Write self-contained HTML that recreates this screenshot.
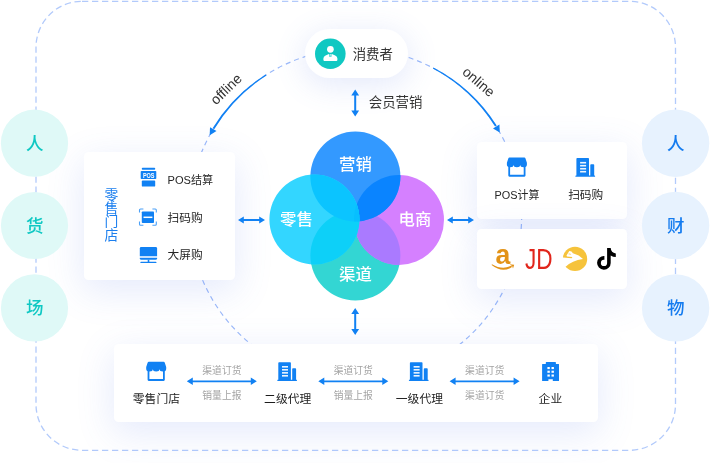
<!DOCTYPE html>
<html lang="zh-CN">
<head>
<meta charset="utf-8">
<title>全渠道业务架构</title>
<style>
  html, body { margin: 0; padding: 0; background: #ffffff; }
  body { width: 710px; height: 463px; overflow: hidden; position: relative;
         font-family: "Liberation Sans", "Noto Sans CJK SC", sans-serif; }
  #stage { position: absolute; left: 0; top: 0; width: 710px; height: 463px; overflow: hidden; background: #fff; }
  svg { position: absolute; left: 0; top: 0; will-change: transform; }
  .card { position: absolute; background: #fff; border-radius: 4.5px;
          box-shadow: 0 10px 36px 2px rgba(84, 118, 235, 0.15); }
  .pill { position: absolute; background: #fff; border-radius: 25px;
          box-shadow: 0 6px 30px 2px rgba(92, 124, 230, 0.16); }
  svg text { font-family: "Liberation Sans", "Noto Sans CJK SC", sans-serif; }
</style>
</head>
<body>
<div id="stage">

  <!-- layer 1 : dashed guides -->
  <svg width="710" height="463" viewBox="0 0 710 463">
    <rect x="36" y="1.3" width="639.5" height="449" rx="46" ry="46" fill="none" stroke="#b2cafb" stroke-width="1.3" stroke-dasharray="6.3 3.7"/>
    <circle cx="355.5" cy="215" r="166.2" fill="none" stroke="#9bb9f9" stroke-width="1.2" stroke-dasharray="5 4"/>
  </svg>

  <!-- cards -->
  <div class="card" style="left:83.8px; top:152.1px; width:150.9px; height:127.9px;"></div>
  <div class="card" style="left:477.1px; top:142.2px; width:149.9px; height:77.2px;"></div>
  <div class="card" style="left:477.1px; top:228.5px; width:149.9px; height:60.8px;"></div>
  <div class="card" style="left:114.1px; top:343.8px; width:484.2px; height:78.1px;"></div>
  <div class="pill" style="left:304.8px; top:29.2px; width:102.8px; height:48.9px;"></div>

  <!-- layer 2 : everything else -->
  <svg width="710" height="463" viewBox="0 0 710 463">
    <defs>
      <g id="shop">
        <!-- 20 x 19 shop icon, origin top-left -->
        <path d="M2.6 0 H17.4 Q18.3 0 18.6 0.9 L20 5.2 V7.2 A3.333 2.5 0 0 1 13.333 7.2 A3.333 2.5 0 0 1 6.667 7.2 A3.333 2.5 0 0 1 0 7.2 V5.2 L1.4 0.9 Q1.7 0 2.6 0 Z" fill="#1181f3"/>
        <path d="M1.4 8.5 V18 Q1.4 19.1 2.5 19.1 H17.5 Q18.6 19.1 18.6 18 V8.5 H16.8 V17.2 H3.2 V8.5 Z" fill="#1181f3"/>
      </g>
      <g id="bld">
        <!-- 19.7 x 18.7 building icon -->
        <path d="M1 18 V0.8 Q1 0 1.8 0 H12.8 Q13.6 0 13.6 0.8 V18 Z" fill="#1181f3"/>
        <path d="M14.9 18 V6.9 Q14.9 6.1 15.7 6.1 H18 Q18.8 6.1 18.8 6.9 V18 Z" fill="#1181f3"/>
        <rect x="0" y="17.5" width="19.7" height="1.2" rx="0.4" fill="#1181f3"/>
        <rect x="4.7" y="3.8" width="6" height="1.6" fill="#fff" fill-opacity="0.92"/>
        <rect x="4.7" y="6.8" width="6" height="1.6" fill="#fff" fill-opacity="0.92"/>
        <rect x="4.7" y="9.85" width="6" height="1.6" fill="#fff" fill-opacity="0.92"/>
        <rect x="4.7" y="12.8" width="6" height="1.6" fill="#fff" fill-opacity="0.92"/>
      </g>
      <g id="harrow">
        <!-- 70 px double arrow, origin left tip, centred on y=0 -->
        <path d="M0 0 L6 -3.7 V-0.85 H64 V-3.7 L70 0 L64 3.7 V0.85 H6 V3.7 Z" fill="#1181f3"/>
      </g>
    </defs>

    <!-- side circles -->
    <g>
      <circle cx="34.5" cy="143.2" r="33.6" fill="#dff9f7"/>
      <circle cx="34.5" cy="225.5" r="33.6" fill="#dff9f7"/>
      <circle cx="34.5" cy="307.9" r="33.6" fill="#dff9f7"/>
      <circle cx="675.6" cy="143.2" r="33.7" fill="#e7f2fe"/>
      <circle cx="675.6" cy="225.5" r="33.7" fill="#e7f2fe"/>
      <circle cx="675.6" cy="307.9" r="33.7" fill="#e7f2fe"/>
      <g font-size="17.5" font-weight="500" text-anchor="middle" fill="#0fc8c3">
        <text x="34.8" y="149.6">人</text>
        <text x="34.8" y="231.9">货</text>
        <text x="34.8" y="314.3">场</text>
      </g>
      <g font-size="17.5" font-weight="500" text-anchor="middle" fill="#147bef">
        <text x="675.8" y="149.6">人</text>
        <text x="675.8" y="231.9">财</text>
        <text x="675.8" y="314.3">物</text>
      </g>
    </g>

    <!-- solid arcs with arrow heads -->
    <path d="M265.79 74.38 A166.2 166.2 0 0 0 212.74 128.06 L214.36 129.05 A166.2 166.2 0 0 1 266.43 75.39 Z" fill="#1181f3"/>
    <path d="M209.7 135.2 L210.0 127.2 L216.5 131.1 Z" fill="#1181f3"/>
    <path d="M433.45 67.53 A166.2 166.2 0 0 1 496.68 125.51 L495.07 126.53 A166.2 166.2 0 0 0 432.89 68.59 Z" fill="#1181f3"/>
    <path d="M499.8 132.6 L499.4 124.6 L493.0 128.6 Z" fill="#1181f3"/>

    <text font-size="14" fill="#333" text-anchor="middle" transform="translate(226.3 89.3) rotate(-44)" x="0" y="4.5">offline</text>
    <text font-size="14" fill="#333" text-anchor="middle" transform="translate(478.5 82) rotate(41)" x="0" y="4.5">online</text>

    <!-- consumer pill -->
    <circle cx="330.3" cy="53.7" r="15.3" fill="#10c8c2"/>
    <circle cx="330.4" cy="49.3" r="3.35" fill="#fff"/>
    <path d="M323.4 60.1 V58.4 Q323.4 56.2 325.6 55.4 L328.9 53.9 H331.9 L335.2 55.4 Q337.4 56.2 337.4 58.4 V60.1 Q337.4 60.9 336.6 60.9 H324.2 Q323.4 60.9 323.4 60.1 Z" fill="#fff"/>
    <path d="M329.6 53.9 L329.9 57 M331.2 53.9 L330.9 57" stroke="#10c8c2" stroke-width="0.8" fill="none"/>
    <text x="352.7" y="58.7" font-size="13.4" fill="#333">消费者</text>

    <!-- vertical arrows -->
    <path d="M355.2 89.5 L359.1 95.5 H356.2 V110.4 H359.1 L355.2 116.4 L351.3 110.4 H354.2 V95.5 H351.3 Z" fill="#1181f3"/>
    <text x="368.8" y="106.8" font-size="13.4" fill="#333">会员营销</text>
    <path d="M355.2 307.9 L359.1 313.9 H356.2 V329 H359.1 L355.2 335 L351.3 329 H354.2 V313.9 H351.3 Z" fill="#1181f3"/>

    <!-- horizontal arrows beside venn -->
    <path d="M238 220 L243.8 216.4 V219.1 H259.2 V216.4 L265 220 L259.2 223.6 V220.9 H243.8 V223.6 Z" fill="#1181f3"/>
    <path d="M447 220 L452.8 216.4 V219.1 H468.2 V216.4 L474 220 L468.2 223.6 V220.9 H452.8 V223.6 Z" fill="#1181f3"/>

    <!-- venn -->
    <clipPath id="cM"><circle cx="355.4" cy="176.5" r="45"/></clipPath>
    <clipPath id="cE"><circle cx="399" cy="220" r="45"/></clipPath>
    <clipPath id="cQ"><circle cx="355.4" cy="255.5" r="45"/></clipPath>
    <clipPath id="cL"><circle cx="314.4" cy="219.5" r="45"/></clipPath>
    <g>
      <circle cx="355.4" cy="255.5" r="45" fill="#33d6d3"/>
      <circle cx="399" cy="220" r="45" fill="#d580ff"/>
      <circle cx="355.4" cy="255.5" r="45" fill="#aa7aff" clip-path="url(#cE)"/>
      <circle cx="355.4" cy="176.5" r="45" fill="#3399ff"/>
      <circle cx="399" cy="220" r="45" fill="#0a84ff" clip-path="url(#cM)"/>
      <circle cx="314.4" cy="219.5" r="45" fill="#33d6ff"/>
      <circle cx="355.4" cy="255.5" r="45" fill="#0dd0f8" clip-path="url(#cL)"/>
      <circle cx="355.4" cy="176.5" r="45" fill="#0bc4ff" clip-path="url(#cL)"/>
      <g clip-path="url(#cL)"><circle cx="399" cy="220" r="45" fill="#07bfff" clip-path="url(#cM)"/></g>
    </g>
    <g font-size="16.4" font-weight="500" fill="#fff" text-anchor="middle">
      <text x="355.4" y="169.5">营销</text>
      <text x="296.5" y="225.3">零售</text>
      <text x="415" y="225.3">电商</text>
      <text x="355.4" y="279.5">渠道</text>
    </g>

    <!-- left card content -->
    <g font-size="13.8" fill="#1c7fee" text-anchor="middle">
      <text x="111.45" y="199.9">零</text>
      <text x="111.45" y="213.1">售</text>
      <text x="111.45" y="226.3">门</text>
      <text x="111.45" y="239.5">店</text>
    </g>
    <!-- pos icon -->
    <g fill="#1181f3">
      <rect x="141.8" y="167.7" width="13.4" height="2.1" rx="0.8"/>
      <rect x="140.7" y="170.9" width="15.6" height="8.2" rx="0.8"/>
      <rect x="141.8" y="180.6" width="13.4" height="6" rx="0.9"/>
    </g>
    <text x="148.7" y="177.9" font-size="7.3" font-weight="bold" fill="#fff" text-anchor="middle" textLength="11.6" lengthAdjust="spacingAndGlyphs">POS</text>
    <!-- scan icon -->
    <g fill="none" stroke="#4aa0f7" stroke-width="1.1" stroke-linejoin="round">
      <path d="M139.5 212.6 V210 Q139.5 209 140.5 209 H143.4 M152.4 209 H155.3 Q156.3 209 156.3 210 V212.6 M156.3 221.6 V224.2 Q156.3 225.2 155.3 225.2 H152.4 M143.4 225.2 H140.5 Q139.5 225.2 139.5 224.2 V221.6"/>
    </g>
    <rect x="141.8" y="211.4" width="12.2" height="11.6" rx="0.8" fill="#1181f3"/>
    <rect x="143.5" y="216.55" width="8.9" height="1.5" fill="#fff"/>
    <!-- screen icon -->
    <g fill="#1181f3">
      <path d="M139.8 256.2 V248.4 Q139.8 247 141.2 247 H155.7 Q157.1 247 157.1 248.4 V256.2 Z"/>
      <path d="M139.8 257.8 H157.1 V258.2 Q157.1 259.8 155.5 259.8 H141.4 Q139.8 259.8 139.8 258.2 Z"/>
      <rect x="147.7" y="259.7" width="1.6" height="2.3"/>
      <rect x="140.3" y="261.7" width="16.2" height="1.4" rx="0.7"/>
    </g>
    <g font-size="11.7" fill="#262626">
      <text x="167.6" y="183.9" textLength="45.6" lengthAdjust="spacingAndGlyphs">POS结算</text>
      <text x="167.6" y="221.9">扫码购</text>
      <text x="167.6" y="259.2">大屏购</text>
    </g>

    <!-- right top card -->
    <use href="#shop" x="506.9" y="157.6"/>
    <use href="#bld" x="575.4" y="158.1"/>
    <g font-size="11.7" fill="#262626" text-anchor="middle">
      <text x="517" y="199.1" textLength="44.8" lengthAdjust="spacingAndGlyphs">POS计算</text>
      <text x="585.7" y="199.1">扫码购</text>
    </g>

    <!-- logos -->
    <g>
      <text x="502.9" y="263.5" font-size="28" font-weight="bold" fill="#e39318" text-anchor="middle" textLength="14.8" lengthAdjust="spacingAndGlyphs">a</text>
      <path d="M492 264.2 Q502.5 270.6 511.4 265.6 L512 266.9 Q502.5 273.6 491.6 265.1 Z" fill="#e39318"/>
      <path d="M509.6 264.3 L514.2 264.8 L513 268.5 L512.1 266 Z" fill="#e39318"/>
      <text x="538.7" y="268.7" font-size="29.6" fill="#e1251b" text-anchor="middle" textLength="27.6" lengthAdjust="spacingAndGlyphs">JD</text>
      <circle cx="575" cy="258.9" r="12.2" fill="#f6c33b"/>
      <path d="M566.5 255.6 L569.3 251 L571.5 251.4 L572.9 253.3 L578.7 255.6 L583 259 Q572 260.6 565.6 266.7 L560 268.5 V257.3 L571.6 258.3 L572.4 257.1 L567 256.5 Z" fill="#fff"/>
      <path d="M568.8 253.6 L571.2 253.9 L570.9 254.6 L568.4 254.3 Z" fill="#f6c33b"/>
      <!-- tiktok note -->
      <path d="M607.1 247.9 H610.7 Q611 252.6 615.8 253.4 V257.1 Q613 257 610.7 255.5 V262.9 A6.8 6.8 0 1 1 604.4 256.12 V259.84 A3.1 3.1 0 1 0 607.1 262.9 Z" fill="#000"/>
    </g>

    <!-- bottom card -->
    <use href="#shop" x="146.2" y="361.8"/>
    <use href="#bld" x="277.3" y="362.2"/>
    <use href="#bld" x="408.9" y="362.2"/>
    <!-- enterprise -->
    <g>
      <path d="M542.1 381 V364.3 Q542.1 363.9 542.5 363.9 H545.8 V362.5 Q545.8 361.9 546.4 361.9 H555.3 Q555.9 361.9 555.9 362.5 V363.9 H558.6 Q559 363.9 559 364.3 V381 H552.8 V379.2 H548.4 V381 Z" fill="#1181f3"/>
      <g fill="#fff">
        <rect x="547.4" y="367" width="2.4" height="2.1"/><rect x="551.5" y="367" width="2.4" height="2.1"/>
        <rect x="547.4" y="370.7" width="2.4" height="2.1"/><rect x="551.5" y="370.7" width="2.4" height="2.1"/>
        <rect x="547.4" y="374.5" width="2.4" height="2.1"/><rect x="551.5" y="374.5" width="2.4" height="2.1"/>
      </g>
    </g>
    <use href="#harrow" x="186.8" y="381.3"/>
    <use href="#harrow" x="318.3" y="381.3"/>
    <use href="#harrow" x="449.6" y="381.3"/>
    <g font-size="11.8" fill="#1c1c1c" text-anchor="middle">
      <text x="156.4" y="403.4">零售门店</text>
      <text x="287.7" y="403.4">二级代理</text>
      <text x="419.4" y="403.4">一级代理</text>
      <text x="550.4" y="403.4">企业</text>
    </g>
    <g font-size="9.8" fill="#a3a3a3" text-anchor="middle">
      <text x="221.9" y="374.1">渠道订货</text>
      <text x="221.9" y="398.5">销量上报</text>
      <text x="353.3" y="374.1">渠道订货</text>
      <text x="353.3" y="398.5">销量上报</text>
      <text x="484.7" y="374.1">渠道订货</text>
      <text x="484.7" y="398.5">渠道订货</text>
    </g>
  </svg>
</div>
</body>
</html>
